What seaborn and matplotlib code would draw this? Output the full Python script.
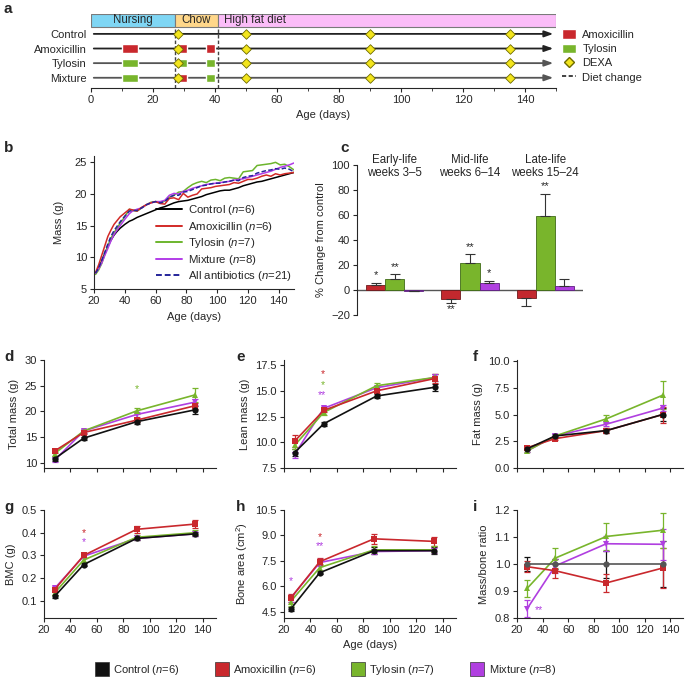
import numpy as np
import pandas as pd
import seaborn as sns
import matplotlib.pyplot as plt
from matplotlib.patches import Patch
from matplotlib.lines import Line2D
from matplotlib.ticker import FormatStrFormatter

sns.set_style("ticks")
plt.rcParams["font.family"] = ["Liberation Sans", "DejaVu Sans"]
plt.rcParams["mathtext.fontset"] = "custom"
plt.rcParams["mathtext.it"] = "Liberation Sans:italic"
plt.rcParams["mathtext.rm"] = "Liberation Sans"
plt.rcParams["font.size"] = 7.5
plt.rcParams["axes.linewidth"] = 0.8
plt.rcParams["xtick.major.size"] = 3
plt.rcParams["ytick.major.size"] = 3
plt.rcParams["xtick.major.pad"] = 2
plt.rcParams["ytick.major.pad"] = 2

# groups
groups = ["Control", "Amoxicillin", "Tylosin", "Mixture"]
group_n = [6, 6, 7, 8]
colors = {"Control": "#111111", "Amoxicillin": "#c9282d", "Tylosin": "#78b52c", "Mixture": "#b03fe0"}
markers = {"Control": "o", "Amoxicillin": "s", "Tylosin": "^", "Mixture": "v"}

# panel a - study design
stage_names = ["Nursing", "Chow", "High fat diet"]
stage_start = [0, 27, 41]
stage_end = [27, 41, 150]
stage_colors = ["#7fd6f4", "#ffd78a", "#fbbdf8"]
pulse_start = [10, 28, 37]
pulse_end = [15, 31, 40]
pulse_drug = {"Control": [], "Amoxicillin": ["Amoxicillin", "Amoxicillin", "Amoxicillin"],
              "Tylosin": ["Tylosin", "Tylosin", "Tylosin"], "Mixture": ["Tylosin", "Amoxicillin", "Tylosin"]}
dexa_days = [28, 50, 90, 135]
diet_change_days = [27, 41]

# panel b - mass curves
b_days = [21, 23, 25, 27, 29, 31, 33, 35, 37, 40, 43, 45, 48, 51, 54, 57, 60, 63, 66, 69, 72, 75, 78, 81,
          84, 87, 90, 93, 96, 99, 102, 105, 108, 111, 114, 117, 120, 123, 126, 129, 132, 135, 138, 141,
          144, 147, 150]
b_control = [7.5, 8.3, 9.4, 10.6, 11.7, 12.7, 13.5, 14.1, 14.6, 15.2, 15.7, 15.9, 16.3, 16.6, 16.9, 17.2,
             17.5, 17.8, 18.0, 18.3, 18.6, 18.8, 18.9, 19.0, 19.2, 19.4, 19.6, 19.9, 20.1, 20.3, 20.5, 20.6,
             20.6, 20.8, 21.0, 21.3, 21.5, 21.7, 21.9, 22.0, 22.2, 22.4, 22.6, 22.8, 23.0, 23.2, 23.4]
b_amox = [7.6, 8.8, 10.3, 11.8, 13.3, 14.3, 15.2, 15.8, 16.4, 17.0, 17.6, 17.5, 17.3, 17.9, 18.3, 18.6,
          18.8, 18.5, 18.4, 19.3, 19.4, 19.1, 20.1, 19.5, 19.8, 20.0, 20.8, 20.9, 21.0, 21.2, 21.3, 21.4,
          21.5, 21.8, 21.7, 22.0, 22.3, 22.3, 22.5, 22.8, 23.0, 22.8, 23.2, 23.0, 23.2, 23.3, 23.4]
b_tylo = [7.3, 8.0, 9.0, 10.4, 11.8, 13.0, 13.9, 14.6, 15.4, 16.4, 17.6, 17.4, 17.3, 17.8, 18.3, 18.7,
          18.8, 18.6, 18.9, 19.5, 19.8, 20.3, 20.4, 21.0, 21.5, 21.8, 22.0, 21.8, 22.2, 22.3, 22.1, 22.5,
          22.6, 22.5, 22.4, 23.5, 23.6, 23.7, 24.5, 24.6, 24.7, 24.8, 25.0, 24.6, 24.7, 24.3, 23.8]
b_mix = [7.5, 8.2, 9.1, 10.3, 11.4, 12.6, 13.6, 14.3, 15.0, 16.0, 16.9, 17.3, 17.6, 17.8, 18.3, 18.6,
         18.8, 18.8, 19.0, 19.8, 20.1, 20.0, 20.4, 20.6, 20.9, 21.1, 21.3, 21.5, 21.6, 21.7, 21.8, 21.9,
         22.0, 22.2, 22.3, 22.4, 22.6, 22.8, 23.0, 23.2, 23.4, 23.6, 23.9, 24.2, 24.4, 24.6, 24.9]
b_all = [7.5, 8.3, 9.5, 10.8, 12.1, 13.3, 14.2, 14.9, 15.6, 16.5, 17.3, 17.4, 17.4, 17.8, 18.3, 18.6,
         18.8, 18.6, 18.8, 19.5, 19.8, 19.8, 20.3, 20.4, 20.7, 21.0, 21.3, 21.4, 21.6, 21.7, 21.7, 21.9,
         22.0, 22.2, 22.1, 22.6, 22.8, 22.9, 23.3, 23.5, 23.7, 23.8, 24.0, 23.9, 24.1, 23.9, 23.5]

# panel c - % change from control
periods = ["Early-life\nweeks 3\u20135", "Mid-life\nweeks 6\u201314", "Late-life\nweeks 15\u201324"]
c_groups = ["Amoxicillin", "Tylosin", "Mixture"]
c_values = {"Amoxicillin": [4, -7.5, -6], "Tylosin": [9, 21.5, 59], "Mixture": [-0.5, 5.5, 3.5]}
c_errors = {"Amoxicillin": [2, 3, 7], "Tylosin": [3.5, 7, 18], "Mixture": [0.5, 2, 5.5]}
c_stars = {"Amoxicillin": ["*", "**", ""], "Tylosin": ["**", "**", "**"], "Mixture": ["", "*", ""]}

# panels d-i - DEXA
dexa_x = [28, 50, 90, 134]
h_x = [25, 47, 88, 133]
total_mass = {"Control": [10.8, 14.8, 18.0, 20.3], "Amoxicillin": [12.3, 15.9, 18.3, 21.1],
              "Tylosin": [11.8, 16.2, 20.1, 23.2], "Mixture": [10.5, 16.2, 19.4, 21.8]}
total_mass_err = {"Control": [0.4, 0.3, 0.4, 0.8], "Amoxicillin": [0.45, 0.3, 0.4, 0.6],
                  "Tylosin": [0.4, 0.3, 0.6, 1.4], "Mixture": [0.4, 0.3, 0.4, 0.6]}
lean_mass = {"Control": [9.0, 11.8, 14.5, 15.35], "Amoxicillin": [10.1, 13.1, 15.0, 16.2],
             "Tylosin": [9.7, 12.9, 15.5, 16.3], "Mixture": [8.8, 13.3, 15.3, 16.3]}
lean_mass_err = {"Control": [0.3, 0.2, 0.2, 0.35], "Amoxicillin": [0.6, 0.2, 0.2, 0.4],
                 "Tylosin": [0.4, 0.2, 0.3, 0.3], "Mixture": [0.3, 0.2, 0.2, 0.3]}
fat_mass = {"Control": [1.8, 3.0, 3.5, 5.0], "Amoxicillin": [1.9, 2.75, 3.5, 5.0],
            "Tylosin": [1.6, 3.0, 4.6, 6.8], "Mixture": [1.6, 3.0, 4.1, 5.6]}
fat_mass_err = {"Control": [0.15, 0.15, 0.2, 0.6], "Amoxicillin": [0.15, 0.15, 0.2, 0.75],
                "Tylosin": [0.15, 0.15, 0.4, 1.3], "Mixture": [0.15, 0.15, 0.2, 0.25]}
bmc = {"Control": [0.12, 0.26, 0.375, 0.395], "Amoxicillin": [0.15, 0.30, 0.415, 0.438],
       "Tylosin": [0.135, 0.28, 0.38, 0.40], "Mixture": [0.155, 0.297, 0.375, 0.395]}
bmc_err = {"Control": [0.007, 0.007, 0.008, 0.008], "Amoxicillin": [0.01, 0.01, 0.014, 0.016],
           "Tylosin": [0.008, 0.01, 0.01, 0.01], "Mixture": [0.01, 0.01, 0.008, 0.008]}
bone_area = {"Control": [4.65, 6.8, 8.1, 8.1], "Amoxicillin": [5.3, 7.45, 8.8, 8.65],
             "Tylosin": [5.1, 7.1, 8.15, 8.15], "Mixture": [5.3, 7.4, 8.05, 8.1]}
bone_area_err = {"Control": [0.1, 0.1, 0.2, 0.2], "Amoxicillin": [0.25, 0.2, 0.3, 0.28],
                 "Tylosin": [0.25, 0.2, 0.2, 0.2], "Mixture": [0.2, 0.2, 0.15, 0.15]}
ratio = {"Control": [1.0, 1.0, 1.0, 1.0], "Amoxicillin": [0.99, 0.975, 0.93, 0.985],
         "Tylosin": [0.91, 1.022, 1.102, 1.125], "Mixture": [0.835, 0.993, 1.075, 1.073]}
ratio_err = {"Control": [0.025, 0.02, 0.05, 0.085], "Amoxicillin": [0.02, 0.025, 0.032, 0.075],
             "Tylosin": [0.032, 0.037, 0.05, 0.065], "Mixture": [0.03, 0.025, 0.028, 0.057]}

fig = plt.figure(figsize=(6.85, 6.85), dpi=100)


def px_axes(left, top, right, bottom):
    return fig.add_axes([left / 685, 1 - bottom / 685, (right - left) / 685, (bottom - top) / 685])


def letter(x, y, s):
    fig.text(x / 685, 1 - y / 685, s, fontsize=11, fontweight="bold", va="center", ha="left")


# ---------- a ----------
ax = px_axes(91, 14, 556, 88)
ax.set_xlim(0, 150)
ax.set_ylim(0, 5.06)
row_y = {"Control": 3.7, "Amoxicillin": 2.7, "Tylosin": 1.7, "Mixture": 0.7}
for name, s, e, c in zip(stage_names, stage_start, stage_end, stage_colors):
    ax.barh(4.62, e - s, left=s, height=0.88, color=c, edgecolor="#7a7a7a", lw=0.8)
    if name == "High fat diet":
        ax.text(s + 2, 4.62, name, ha="left", va="center", fontsize=8.3)
    else:
        ax.text((s + e) / 2, 4.62, name, ha="center", va="center", fontsize=8.3)
ax.vlines(diet_change_days, 0, 4.18, colors="#444444", linestyles=(0, (2.5, 1.5)), lw=1, zorder=2)
for g in groups:
    y = row_y[g]
    line_c = "#222222" if g in ("Control", "Amoxicillin") else "#555555"
    ax.annotate("", xy=(150, y), xytext=(0, y),
                arrowprops=dict(arrowstyle="-|>,head_length=0.7,head_width=0.25", color=line_c, lw=1.3),
                zorder=1)
    for s, e, d in zip(pulse_start, pulse_end, pulse_drug[g]):
        ax.barh(y, e - s, left=s, height=0.58, color=colors[d], zorder=3)
    ax.scatter(dexa_days, [y] * len(dexa_days), marker="D", s=24, color="#f3e51d",
               edgecolor="#6d6a00", lw=0.6, zorder=5)
ax.set_yticks([row_y[g] for g in groups])
ax.set_yticklabels(groups, fontsize=8)
ax.tick_params(axis="y", length=0, pad=3)
ax.set_xticks(range(0, 141, 20))
ax.set_xticks(range(10, 151, 20), minor=True)
ax.tick_params(axis="x", which="minor", length=2.5)
ax.tick_params(axis="x", labelsize=8)
for sp in ["left", "top", "right"]:
    ax.spines[sp].set_visible(False)
ax.set_xlabel("Age (days)", fontsize=8, labelpad=4)
handles_a = [Patch(facecolor=colors["Amoxicillin"]), Patch(facecolor=colors["Tylosin"]),
             Line2D([], [], marker="D", ls="", markerfacecolor="#f3e51d", markeredgecolor="#6d6a00", markersize=5),
             Line2D([], [], color="#222222", ls=(0, (2.5, 1.5)), lw=1.2)]
fig.legend(handles_a, ["Amoxicillin", "Tylosin", "DEXA", "Diet change"], loc="upper left",
           bbox_to_anchor=(558 / 685, 1 - 25 / 685), frameon=False, fontsize=8,
           handlelength=1.2, handleheight=1.0, labelspacing=0.3, handletextpad=0.6, borderaxespad=0)
letter(4, 9, "a")

# ---------- b ----------
ax = px_axes(94, 156, 294, 289)
b_series = {"Control": b_control, "Amoxicillin": b_amox, "Tylosin": b_tylo, "Mixture": b_mix,
            "All antibiotics": b_all}
b_n = {"Control": 6, "Amoxicillin": 6, "Tylosin": 7, "Mixture": 8, "All antibiotics": 21}
b_colors = {"Control": "#000000", "Amoxicillin": "#d22a27", "Tylosin": "#6cb52d", "Mixture": "#b23ce8",
            "All antibiotics": "#25259a"}
rows = []
for k, v in b_series.items():
    lab = k + " ($n$=" + str(b_n[k]) + ")"
    for d, m in zip(b_days, v):
        rows.append((lab, d, m))
bdf = pd.DataFrame(rows, columns=["group", "day", "mass"])
labs = [k + " ($n$=" + str(b_n[k]) + ")" for k in b_series]
pal = {k + " ($n$=" + str(b_n[k]) + ")": b_colors[k] for k in b_series}
dash = {lab: "" for lab in labs}
dash[labs[-1]] = (3, 1.5)
sns.lineplot(data=bdf, x="day", y="mass", hue="group", style="group", palette=pal, dashes=dash,
             hue_order=[labs[0], labs[2], labs[3], labs[1], labs[4]], lw=1.1, ax=ax)
h, l = ax.get_legend_handles_labels()
order = [l.index(x) for x in labs]
ax.legend([h[i] for i in order], [l[i] for i in order], loc="lower right", bbox_to_anchor=(1.02, 0.0),
          frameon=False, fontsize=8.2, handlelength=2.3, labelspacing=0.22, borderaxespad=0.1,
          handletextpad=0.5)
for lh in ax.get_legend().get_lines():
    lh.set_linewidth(1.4)
ax.set_xlim(20, 150)
ax.set_ylim(5, 26)
ax.set_xticks(range(20, 141, 20))
ax.set_yticks(range(5, 26, 5))
ax.set_xlabel("Age (days)", fontsize=8)
ax.set_ylabel("Mass (g)", fontsize=8, labelpad=8)
ax.tick_params(labelsize=8)
sns.despine(ax=ax)
letter(4, 148, "b")

# ---------- c ----------
ax = px_axes(357, 165, 583, 315)
crow = []
for g in c_groups:
    for p, v in zip(periods, c_values[g]):
        crow.append((g, p, v))
cdf = pd.DataFrame(crow, columns=["group", "period", "change"])
c_pal = {"Amoxicillin": "#c3282e", "Tylosin": "#79b52c", "Mixture": "#b040e0"}
c_edge = {"Amoxicillin": "#6e1a1c", "Tylosin": "#3f6a17", "Mixture": "#5e2080"}
sns.barplot(data=cdf, x="period", y="change", hue="group", hue_order=c_groups, order=periods,
            palette=c_pal, width=0.76, errorbar=None, legend=False, ax=ax, saturation=1)
ax.axhline(0, color="#555555", lw=1.0, zorder=0)
for g, cont in zip(c_groups, ax.containers):
    for i, bar in enumerate(cont):
        bar.set_edgecolor(c_edge[g])
        bar.set_linewidth(0.6)
        xc = bar.get_x() + bar.get_width() / 2
        v = c_values[g][i]
        e = c_errors[g][i]
        if v >= 0:
            ax.errorbar(xc, v, yerr=[[0], [e]], color="#333333", capsize=3.5, lw=0.8, capthick=0.8)
            ax.text(xc, v + e + 2, c_stars[g][i], ha="center", va="bottom", fontsize=8)
        else:
            ax.errorbar(xc, v, yerr=[[e], [0]], color="#333333", capsize=3.5, lw=0.8, capthick=0.8)
            ax.text(xc, v - e - 1, c_stars[g][i], ha="center", va="top", fontsize=8)
for xt, p in zip(ax.get_xticks(), periods):
    ax.text(xt, 99, p, ha="center", va="center", fontsize=8.3, linespacing=1.15)
ax.set_xlim(-0.5, 2.5)
ax.set_ylim(-20, 100)
ax.set_yticks(range(-20, 101, 20))
ax.tick_params(axis="x", length=0, labelbottom=False)
ax.tick_params(labelsize=8)
ax.set_xlabel("")
ax.set_ylabel("% Change from control", fontsize=8)
for sp in ["top", "right", "bottom"]:
    ax.spines[sp].set_visible(False)
letter(340, 148, "c")

# ---------- d-i ----------
cols = [(44, 216), (284, 456), (517, 683)]
rows_px = [(360, 468), (510, 618)]
panels = [
    ("d", total_mass, total_mass_err, dexa_x, "Total mass (g)", (9.0, 30), [10, 15, 20, 25, 30], "%d",
     [(90, 24.3, "*", "Tylosin")]),
    ("e", lean_mass, lean_mass_err, dexa_x, "Lean mass (g)", (7.5, 18.0), [7.5, 10, 12.5, 15, 17.5], "%.1f",
     [(49, 16.6, "*", "Amoxicillin"), (49, 15.6, "*", "Tylosin"), (49, 14.6, "**", "Mixture")]),
    ("f", fat_mass, fat_mass_err, dexa_x, "Fat mass (g)", (0, 10.1), [0, 2.5, 5, 7.5, 10], "%.1f", []),
    ("g", bmc, bmc_err, dexa_x, "BMC (g)", (0.025, 0.5), [0.1, 0.2, 0.3, 0.4, 0.5], "%.1f",
     [(50, 0.40, "*", "Amoxicillin"), (50, 0.36, "*", "Mixture")]),
    ("h", bone_area, bone_area_err, h_x, "Bone area (cm$^2$)", (4.13, 10.5), [4.5, 6, 7.5, 9, 10.5], "%.1f",
     [(25, 6.3, "*", "Mixture"), (47, 8.9, "*", "Amoxicillin"), (47, 8.35, "**", "Mixture")]),
    ("i", ratio, ratio_err, dexa_x, "Mass/bone ratio", (0.8, 1.2), [0.8, 0.9, 1.0, 1.1, 1.2], "%.1f",
     [(37, 0.828, "**", "Mixture")]),
]
for idx, (lab, vals, errs, xs, ylab, ylim, yt, fmt, stars) in enumerate(panels):
    r, c = divmod(idx, 3)
    l, rr = cols[c]
    t, b = rows_px[r]
    ax = px_axes(l, t, rr, b)
    rows = []
    for g in groups:
        for x, v in zip(xs, vals[g]):
            rows.append((g, x, v))
    df = pd.DataFrame(rows, columns=["group", "day", "value"])
    pal_p = dict(colors)
    if lab == "i":
        pal_p["Control"] = "#555555"
    sns.lineplot(data=df, x="day", y="value", hue="group", style="group", hue_order=groups[::-1],
                 palette=pal_p, markers=markers, dashes=False, markersize=4.5, markeredgewidth=0,
                 lw=1.2, legend=False, ax=ax)
    for g in groups:
        ax.errorbar(xs, vals[g], yerr=errs[g], fmt="none", ecolor=colors[g], capsize=2.5, lw=0.9,
                    capthick=0.9, zorder=1)
    for x, y, s, g in stars:
        ax.text(x, y, s, color=colors[g], ha="center", va="center", fontsize=7.5)
    ax.set_xlim(20, 150)
    ax.set_ylim(*ylim)
    ax.set_xticks(range(20, 141, 20))
    ax.set_yticks(yt)
    ax.yaxis.set_major_formatter(FormatStrFormatter(fmt))
    ax.tick_params(labelsize=8)
    if r == 0:
        ax.tick_params(axis="x", labelbottom=False)
    ax.set_xlabel("Age (days)" if lab == "h" else "", fontsize=8)
    ax.set_ylabel(ylab, fontsize=8)
    sns.despine(ax=ax)
    letter([4, 236, 473][c], [357, 507][r], lab)

# bottom legend
handles_b = [Line2D([], [], marker="s", ls="", markersize=10, markerfacecolor=colors[g],
                    markeredgecolor="#333333", markeredgewidth=0.5) for g in groups]
labels_b = [g + " ($n$=" + str(n) + ")" for g, n in zip(groups, group_n)]
fig.legend(handles_b, labels_b, loc="center", bbox_to_anchor=(0.475, 1 - 670 / 685), ncol=4,
           frameon=False, fontsize=8, columnspacing=3.2, handletextpad=0.4, handlelength=1.2)

fig.savefig("out.png", dpi=100)
